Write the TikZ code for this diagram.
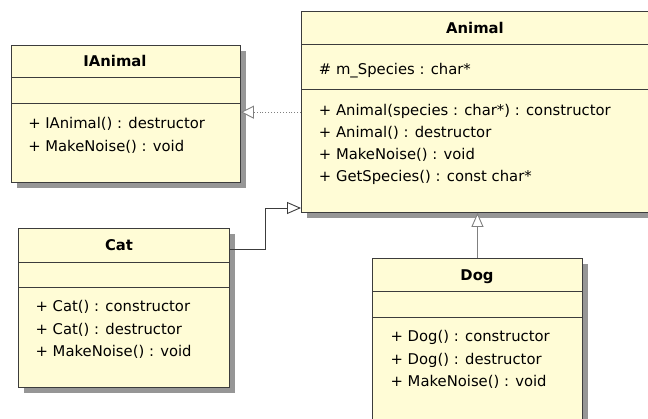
\documentclass[tikz,border=0pt]{standalone}
\usepackage{fontspec}
\setmainfont{DejaVu Sans}
\usetikzlibrary{shadows,arrows.meta}
\definecolor{classfill}{RGB}{255,252,214}
\definecolor{shadowgray}{RGB}{150,150,150}
\definecolor{edgegray}{RGB}{60,60,60}
\begin{document}
\begin{tikzpicture}[ x=1pt, y=-1pt, font=\fontsize{14.8}{17}\selectfont,
        line width=0.9pt,
        classbox/.style={ draw=edgegray, fill=classfill, anchor=north west,
          inner sep=0pt, drop shadow={ shadow xshift=6pt, shadow yshift=-6pt,
          fill=shadowgray, draw=none, opacity=1 } },
        title/.style={ anchor=base, inner sep=0pt,
          font=\fontsize{14.8}{17}\selectfont\bfseries },
        member/.style={ anchor=base west, inner sep=0pt },
        separator/.style={ draw=edgegray },
        generalization/.style={ draw=edgegray,
          -{Triangle[length=14pt,width=12pt,fill=white]} },
        realization/.style={ draw=gray, dotted,
          -{Triangle[length=13pt,width=13pt,fill=white]} } ]
        \useasboundingbox (0,0) rectangle (648,418);

        \node[classbox,minimum width=229,minimum height=137] (ianimal) at (11,45) {};
        \node[classbox,minimum width=350,minimum height=201] (animal) at (301,11) {};
        \node[classbox,minimum width=211,minimum height=159] (cat) at (18,228) {};
        \node[classbox,minimum width=210,minimum height=180] (dog) at (372,258) {};

        \foreach \n/\y in {ianimal/77,ianimal/103,animal/44,animal/89,
          cat/262,cat/287,dog/291,dog/317}
        \draw[separator] (\n.west |- 0,\y) -- (\n.east |- 0,\y);

        \foreach \n/\x/\y/\l in {ianimal/115/66.7/IAnimal,animal/475/33/Animal,
          cat/119/250/Cat,dog/477/280/Dog}
        \node[title] (\n-title) at (\x,\y) {\l};

        \foreach \l [count=\i] in {+ IAnimal() : destructor,+ MakeNoise() : void}
        \node[member] (ianimal-m\i) at (27.8,{128.7+22.3*(\i-1)}) {\l};

        \node[member] (animal-a1) at (318.5,74) {\# m\_Species : char*};
        \foreach \l [count=\i] in {+ Animal(species : char*) : constructor,
          + Animal() : destructor,+ MakeNoise() : void,
          + GetSpecies() : const char*}
        \node[member] (animal-m\i) at (318.5,{115+22.2*(\i-1)}) {\l};

        \foreach \l [count=\i] in {+ Cat() : constructor,+ Cat() : destructor,
          + MakeNoise() : void}
        \node[member] (cat-m\i) at (35.2,{311.7+22.5*(\i-1)}) {\l};

        \foreach \l [count=\i] in {+ Dog() : constructor,+ Dog() : destructor,
          + MakeNoise() : void}
        \node[member] (dog-m\i) at (390.2,{341.7+22.5*(\i-1)}) {\l};

        \coordinate (catbend) at (265,208);
        \draw[realization] ([yshift=1.8pt]ianimal.east -| animal.west)
        -- ([yshift=1.8pt]ianimal.east);
        \draw[generalization] ([yshift=-21pt]cat.north east) -| (catbend)
        -- (catbend -| animal.west);
        \draw[generalization,draw=gray] (dog.north) -- (dog.north |- animal.south);
      \end{tikzpicture}
\end{document}
